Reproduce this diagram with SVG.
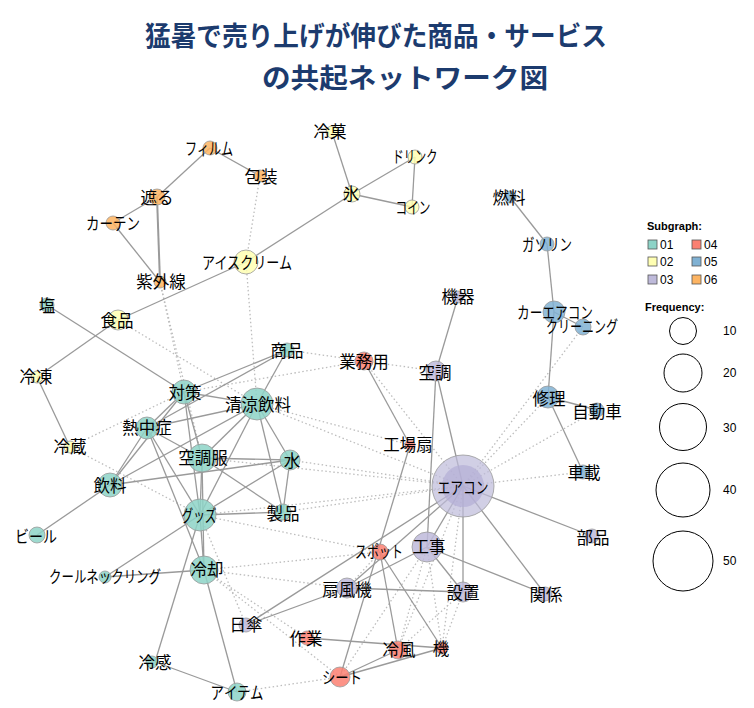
<svg xmlns="http://www.w3.org/2000/svg" width="754" height="708" viewBox="0 0 754 708">
<style>
.title{font-family:"Noto Sans CJK JP","Noto Sans",sans-serif;font-weight:bold;font-size:27px;fill:#1c3b6e;text-anchor:middle}
.lbl{font-family:"Noto Sans CJK JP","Noto Sans",sans-serif;font-size:16.5px;fill:#000;text-anchor:middle;dominant-baseline:central}
.s{stroke:#9a9a9a;stroke-width:1.3;fill:none}
.d{stroke:#bdbdbd;stroke-width:1.3;stroke-dasharray:1.5 2.5;fill:none}
circle.n{stroke:#999;stroke-width:0.8;fill-opacity:0.85}
.c1{fill:#8DD3C7}.c2{fill:#FFFFB3}.c3{fill:#BEBADA}.c4{fill:#FB8072}.c5{fill:#80B1D3}.c6{fill:#FDB462}
.lg{font-family:"Liberation Sans",Arial,sans-serif;font-size:12px;fill:#000}
.lgb{font-family:"Liberation Sans",Arial,sans-serif;font-size:11px;font-weight:bold;fill:#000}
.lc{fill:none;stroke:#000;stroke-width:1}
.sq{stroke:#555;stroke-width:0.8}
</style>
<rect width="754" height="708" fill="#fff"/>
<text class="title" x="376" y="46" textLength="462" lengthAdjust="spacingAndGlyphs">猛暑で売り上げが伸びた商品・サービス</text>
<text class="title" x="405" y="88" textLength="286" lengthAdjust="spacingAndGlyphs">の共起ネットワーク図</text>

<g id="edges">
<line class="d" x1="260" y1="176" x2="246" y2="262"/>
<line class="d" x1="246" y1="262" x2="257" y2="404"/>
<line class="d" x1="160" y1="282" x2="184" y2="392"/>
<line class="d" x1="160" y1="282" x2="202" y2="458"/>
<line class="d" x1="118" y1="320" x2="257" y2="404"/>
<line class="d" x1="70" y1="447" x2="184" y2="392"/>
<line class="d" x1="70" y1="447" x2="200" y2="515"/>
<line class="d" x1="287" y1="350" x2="364" y2="361"/>
<line class="d" x1="364" y1="361" x2="436" y2="371"/>
<line class="d" x1="364" y1="361" x2="463" y2="486"/>
<line class="d" x1="184" y1="392" x2="364" y2="361"/>
<line class="d" x1="257" y1="404" x2="463" y2="486"/>
<line class="d" x1="257" y1="404" x2="410" y2="445"/>
<line class="d" x1="290" y1="460" x2="463" y2="486"/>
<line class="d" x1="283" y1="512" x2="463" y2="486"/>
<line class="d" x1="200" y1="515" x2="463" y2="486"/>
<line class="d" x1="202" y1="458" x2="463" y2="486"/>
<line class="d" x1="200" y1="515" x2="380" y2="552"/>
<line class="d" x1="204" y1="570" x2="380" y2="552"/>
<line class="d" x1="204" y1="570" x2="347" y2="588"/>
<line class="d" x1="204" y1="570" x2="340" y2="677"/>
<line class="d" x1="204" y1="570" x2="307" y2="638"/>
<line class="d" x1="200" y1="515" x2="246" y2="625"/>
<line class="d" x1="237" y1="692" x2="340" y2="677"/>
<line class="d" x1="463" y1="486" x2="548" y2="397"/>
<line class="d" x1="463" y1="486" x2="583" y2="327"/>
<line class="d" x1="463" y1="486" x2="597" y2="410"/>
<line class="d" x1="463" y1="486" x2="583" y2="472"/>
<line class="d" x1="463" y1="486" x2="398" y2="650"/>
<line class="d" x1="463" y1="486" x2="442" y2="648"/>
<line class="d" x1="427" y1="547" x2="398" y2="650"/>
<line class="d" x1="427" y1="547" x2="442" y2="648"/>
<line class="d" x1="463" y1="592" x2="398" y2="650"/>
<line class="d" x1="463" y1="592" x2="442" y2="648"/>
<line class="d" x1="427" y1="547" x2="340" y2="677"/>
<line class="d" x1="347" y1="588" x2="380" y2="552"/>
<line class="s" x1="210" y1="148" x2="157" y2="197"/>
<line class="s" x1="210" y1="148" x2="260" y2="176"/>
<line class="s" x1="157" y1="197" x2="113" y2="223"/>
<line class="s" x1="157" y1="197" x2="160" y2="282" style="stroke-width:2"/>
<line class="s" x1="113" y1="223" x2="160" y2="282"/>
<line class="s" x1="332" y1="132" x2="352" y2="194"/>
<line class="s" x1="352" y1="194" x2="415" y2="157"/>
<line class="s" x1="352" y1="194" x2="412" y2="207"/>
<line class="s" x1="415" y1="157" x2="412" y2="207"/>
<line class="s" x1="352" y1="194" x2="246" y2="262"/>
<line class="s" x1="246" y1="262" x2="118" y2="320"/>
<line class="s" x1="118" y1="320" x2="37" y2="377"/>
<line class="s" x1="37" y1="377" x2="70" y2="447"/>
<line class="s" x1="47" y1="305" x2="184" y2="392"/>
<line class="s" x1="184" y1="392" x2="147" y2="428"/>
<line class="s" x1="184" y1="392" x2="257" y2="404"/>
<line class="s" x1="184" y1="392" x2="287" y2="350"/>
<line class="s" x1="184" y1="392" x2="202" y2="458"/>
<line class="s" x1="184" y1="392" x2="200" y2="515"/>
<line class="s" x1="184" y1="392" x2="110" y2="485"/>
<line class="s" x1="147" y1="428" x2="110" y2="485"/>
<line class="s" x1="147" y1="428" x2="202" y2="458"/>
<line class="s" x1="147" y1="428" x2="200" y2="515"/>
<line class="s" x1="147" y1="428" x2="204" y2="570"/>
<line class="s" x1="147" y1="428" x2="257" y2="404"/>
<line class="s" x1="147" y1="428" x2="287" y2="350"/>
<line class="s" x1="257" y1="404" x2="287" y2="350"/>
<line class="s" x1="257" y1="404" x2="290" y2="460"/>
<line class="s" x1="257" y1="404" x2="283" y2="512"/>
<line class="s" x1="257" y1="404" x2="202" y2="458"/>
<line class="s" x1="257" y1="404" x2="200" y2="515"/>
<line class="s" x1="257" y1="404" x2="110" y2="485"/>
<line class="s" x1="202" y1="458" x2="290" y2="460"/>
<line class="s" x1="202" y1="458" x2="200" y2="515"/>
<line class="s" x1="202" y1="458" x2="283" y2="512"/>
<line class="s" x1="202" y1="458" x2="204" y2="570"/>
<line class="s" x1="290" y1="460" x2="200" y2="515"/>
<line class="s" x1="290" y1="460" x2="283" y2="512"/>
<line class="s" x1="290" y1="460" x2="110" y2="485"/>
<line class="s" x1="200" y1="515" x2="283" y2="512"/>
<line class="s" x1="200" y1="515" x2="204" y2="570"/>
<line class="s" x1="200" y1="515" x2="105" y2="577"/>
<line class="s" x1="200" y1="515" x2="155" y2="662"/>
<line class="s" x1="204" y1="570" x2="105" y2="577"/>
<line class="s" x1="204" y1="570" x2="237" y2="692"/>
<line class="s" x1="155" y1="662" x2="237" y2="692"/>
<line class="s" x1="110" y1="485" x2="37" y2="535"/>
<line class="s" x1="458" y1="297" x2="436" y2="371"/>
<line class="s" x1="436" y1="371" x2="463" y2="486"/>
<line class="s" x1="436" y1="371" x2="427" y2="547"/>
<line class="s" x1="364" y1="361" x2="410" y2="445"/>
<line class="s" x1="410" y1="445" x2="340" y2="677"/>
<line class="s" x1="463" y1="486" x2="427" y2="547"/>
<line class="s" x1="463" y1="486" x2="463" y2="592"/>
<line class="s" x1="463" y1="486" x2="545" y2="594"/>
<line class="s" x1="463" y1="486" x2="592" y2="536"/>
<line class="s" x1="463" y1="486" x2="347" y2="588"/>
<line class="s" x1="463" y1="486" x2="246" y2="625"/>
<line class="s" x1="427" y1="547" x2="463" y2="592"/>
<line class="s" x1="427" y1="547" x2="545" y2="594"/>
<line class="s" x1="427" y1="547" x2="347" y2="588"/>
<line class="s" x1="347" y1="588" x2="463" y2="592"/>
<line class="s" x1="246" y1="625" x2="347" y2="588"/>
<line class="s" x1="380" y1="552" x2="398" y2="650"/>
<line class="s" x1="380" y1="552" x2="442" y2="648"/>
<line class="s" x1="307" y1="638" x2="442" y2="648"/>
<line class="s" x1="340" y1="677" x2="398" y2="650"/>
<line class="s" x1="340" y1="677" x2="442" y2="648"/>
<line class="s" x1="510" y1="197" x2="547" y2="244"/>
<line class="s" x1="547" y1="244" x2="554" y2="312"/>
<line class="s" x1="554" y1="312" x2="583" y2="327"/>
<line class="s" x1="554" y1="312" x2="548" y2="397"/>
<line class="s" x1="548" y1="397" x2="597" y2="410"/>
<line class="s" x1="548" y1="397" x2="583" y2="472"/>
</g>

<g id="n-filmu"><circle class="n c6" cx="210" cy="148" r="7"/><text class="lbl" x="209" y="148" textLength="48" lengthAdjust="spacingAndGlyphs">フィルム</text></g>
<g id="n-housou"><circle class="n c6" cx="260" cy="176" r="6"/><text class="lbl" x="261" y="176">包装</text></g>
<g id="n-saegiru"><circle class="n c6" cx="157" cy="197" r="8"/><text class="lbl" x="157" y="197">遮る</text></g>
<g id="n-curtain"><circle class="n c6" cx="113" cy="223" r="7"/><text class="lbl" x="113" y="223" textLength="54" lengthAdjust="spacingAndGlyphs">カーテン</text></g>
<g id="n-uv"><circle class="n c6" cx="160" cy="282" r="6"/><text class="lbl" x="161" y="281">紫外線</text></g>
<g id="n-icecream"><circle class="n c2" cx="246" cy="262" r="12"/><text class="lbl" x="247" y="262" textLength="90" lengthAdjust="spacingAndGlyphs">アイスクリーム</text></g>
<g id="n-reika"><circle class="n c2" cx="332" cy="132" r="6"/><text class="lbl" x="330" y="131">冷菓</text></g>
<g id="n-drink"><circle class="n c2" cx="415" cy="157" r="7"/><text class="lbl" x="415" y="156" textLength="45" lengthAdjust="spacingAndGlyphs">ドリンク</text></g>
<g id="n-koori"><circle class="n c2" cx="352" cy="194" r="8"/><text class="lbl" x="351" y="193">氷</text></g>
<g id="n-coin"><circle class="n c2" cx="412" cy="207" r="7"/><text class="lbl" x="413" y="207" textLength="35" lengthAdjust="spacingAndGlyphs">コイン</text></g>
<g id="n-shokuhin"><circle class="n c2" cx="118" cy="320" r="10"/><text class="lbl" x="117" y="320">食品</text></g>
<g id="n-reitou"><circle class="n c2" cx="37" cy="377" r="6"/><text class="lbl" x="36" y="376">冷凍</text></g>
<g id="n-reizou"><circle class="n c2" cx="70" cy="447" r="6"/><text class="lbl" x="70" y="446">冷蔵</text></g>
<g id="n-shio"><circle class="n c1" cx="47" cy="305" r="7"/><text class="lbl" x="47" y="305">塩</text></g>
<g id="n-taisaku"><circle class="n c1" cx="184" cy="392" r="12"/><text class="lbl" x="185" y="392">対策</text></g>
<g id="n-necchu"><circle class="n c1" cx="147" cy="428" r="11"/><text class="lbl" x="147" y="427">熱中症</text></g>
<g id="n-seiryo"><circle class="n c1" cx="257" cy="404" r="16"/><text class="lbl" x="258" y="404">清涼飲料</text></g>
<g id="n-shouhin"><circle class="n c1" cx="287" cy="350" r="7"/><text class="lbl" x="287" y="350">商品</text></g>
<g id="n-kuchofuku"><circle class="n c1" cx="202" cy="458" r="14"/><text class="lbl" x="203" y="457">空調服</text></g>
<g id="n-mizu"><circle class="n c1" cx="290" cy="460" r="10"/><text class="lbl" x="292" y="460">水</text></g>
<g id="n-seihin"><circle class="n c1" cx="283" cy="512" r="8"/><text class="lbl" x="283" y="513">製品</text></g>
<g id="n-goods"><circle class="n c1" cx="200" cy="515" r="16"/><text class="lbl" x="199" y="515" textLength="35" lengthAdjust="spacingAndGlyphs">グッズ</text></g>
<g id="n-inryo"><circle class="n c1" cx="110" cy="485" r="12"/><text class="lbl" x="110" y="485">飲料</text></g>
<g id="n-beer"><circle class="n c1" cx="37" cy="535" r="8"/><text class="lbl" x="36" y="536" textLength="42" lengthAdjust="spacingAndGlyphs">ビール</text></g>
<g id="n-coolneck"><circle class="n c1" cx="105" cy="577" r="6"/><text class="lbl" x="105" y="576" textLength="112" lengthAdjust="spacingAndGlyphs">クールネックリング</text></g>
<g id="n-reikyaku"><circle class="n c1" cx="204" cy="570" r="14"/><text class="lbl" x="207" y="569">冷却</text></g>
<g id="n-reikan"><circle class="n c1" cx="152" cy="662" r="6"/><text class="lbl" x="155" y="662">冷感</text></g>
<g id="n-item"><circle class="n c1" cx="237" cy="692" r="9"/><text class="lbl" x="237" y="692" textLength="53" lengthAdjust="spacingAndGlyphs">アイテム</text></g>
<g id="n-kiki"><circle class="n c3" cx="458" cy="297" r="6"/><text class="lbl" x="458" y="296">機器</text></g>
<g id="n-kucho"><circle class="n c3" cx="436" cy="371" r="10"/><text class="lbl" x="435" y="372">空調</text></g>
<g id="n-aircon"><circle class="n c3" cx="463" cy="486" r="31" style="fill-opacity:0.7"/><circle cx="463" cy="486" r="21" fill="#b3aed6" fill-opacity="0.7"/><text class="lbl" x="463" y="487" textLength="51" lengthAdjust="spacingAndGlyphs">エアコン</text></g>
<g id="n-kouji"><circle class="n c3" cx="427" cy="547" r="15"/><text class="lbl" x="429" y="546">工事</text></g>
<g id="n-secchi"><circle class="n c3" cx="463" cy="592" r="10"/><text class="lbl" x="463" y="592">設置</text></g>
<g id="n-kankei"><circle class="n c3" cx="545" cy="594" r="7"/><text class="lbl" x="546" y="594">関係</text></g>
<g id="n-buhin"><circle class="n c3" cx="592" cy="536" r="7"/><text class="lbl" x="593" y="537">部品</text></g>
<g id="n-senpuki"><circle class="n c3" cx="347" cy="588" r="10"/><text class="lbl" x="347" y="589">扇風機</text></g>
<g id="n-higasa"><circle class="n c3" cx="246" cy="625" r="7"/><text class="lbl" x="246" y="624">日傘</text></g>
<g id="n-gyomu"><circle class="n c4" cx="364" cy="361" r="9"/><text class="lbl" x="364" y="361">業務用</text></g>
<g id="n-kojosen"><circle class="n c4" cx="410" cy="445" r="5"/><text class="lbl" x="408" y="444">工場扇</text></g>
<g id="n-spot"><circle class="n c4" cx="380" cy="552" r="8"/><text class="lbl" x="379" y="551" textLength="48" lengthAdjust="spacingAndGlyphs">スポット</text></g>
<g id="n-sagyo"><circle class="n c4" cx="307" cy="638" r="7"/><text class="lbl" x="306" y="638">作業</text></g>
<g id="n-sheet"><circle class="n c4" cx="340" cy="677" r="10"/><text class="lbl" x="342" y="677" textLength="40" lengthAdjust="spacingAndGlyphs">シート</text></g>
<g id="n-reifu"><circle class="n c4" cx="398" cy="650" r="9"/><text class="lbl" x="399" y="649">冷風</text></g>
<g id="n-ki"><circle class="n c4" cx="442" cy="648" r="6"/><text class="lbl" x="441" y="648">機</text></g>
<g id="n-nenryo"><circle class="n c5" cx="510" cy="197" r="6"/><text class="lbl" x="509" y="197">燃料</text></g>
<g id="n-gasoline"><circle class="n c5" cx="547" cy="244" r="7"/><text class="lbl" x="547" y="244" textLength="50" lengthAdjust="spacingAndGlyphs">ガソリン</text></g>
<g id="n-caraircon"><circle class="n c5" cx="554" cy="312" r="11"/><text class="lbl" x="555" y="312" textLength="76" lengthAdjust="spacingAndGlyphs">カーエアコン</text></g>
<g id="n-cleaning"><circle class="n c5" cx="583" cy="327" r="8"/><text class="lbl" x="582" y="326" textLength="72" lengthAdjust="spacingAndGlyphs">クリーニング</text></g>
<g id="n-shuri"><circle class="n c5" cx="548" cy="397" r="11"/><text class="lbl" x="549" y="398">修理</text></g>
<g id="n-jidosha"><circle class="n c5" cx="597" cy="410" r="7"/><text class="lbl" x="597" y="411">自動車</text></g>
<g id="n-shasai"><circle class="n c5" cx="583" cy="472" r="7"/><text class="lbl" x="584" y="472">車載</text></g>

<g id="legend">
<text class="lgb" x="647" y="230">Subgraph:</text>
<rect class="sq c1" x="648" y="240" width="9" height="9"/><text class="lg" x="660" y="249">01</text>
<rect class="sq c4" x="692" y="240" width="9" height="9"/><text class="lg" x="704" y="249">04</text>
<rect class="sq c2" x="648" y="257" width="9" height="9"/><text class="lg" x="660" y="266">02</text>
<rect class="sq c5" x="692" y="257" width="9" height="9"/><text class="lg" x="704" y="266">05</text>
<rect class="sq c3" x="648" y="275" width="9" height="9"/><text class="lg" x="660" y="284">03</text>
<rect class="sq c6" x="692" y="275" width="9" height="9"/><text class="lg" x="704" y="284">06</text>
<text class="lgb" x="645" y="311">Frequency:</text>
<circle class="lc" cx="683" cy="331" r="13.5"/><text class="lg" x="723" y="335">10</text>
<circle class="lc" cx="683" cy="373" r="19"/><text class="lg" x="723" y="377">20</text>
<circle class="lc" cx="683" cy="427" r="23.5"/><text class="lg" x="723" y="432">30</text>
<circle class="lc" cx="683" cy="490" r="27"/><text class="lg" x="723" y="494">40</text>
<circle class="lc" cx="683" cy="561" r="30"/><text class="lg" x="723" y="565">50</text>
</g>
</svg>
